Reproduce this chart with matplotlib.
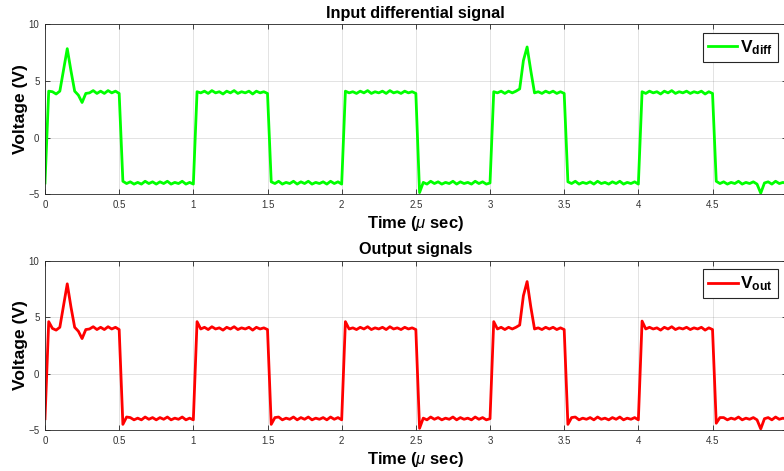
import numpy as np
import matplotlib
matplotlib.use("Agg")
import matplotlib.pyplot as plt

plt.rcParams['font.family'] = ['Liberation Sans', 'DejaVu Sans']
plt.rcParams['mathtext.fontset'] = 'custom'
plt.rcParams['mathtext.rm'] = 'Liberation Sans'
plt.rcParams['mathtext.it'] = 'Liberation Sans:italic'
plt.rcParams['mathtext.bf'] = 'Liberation Sans:bold'

# sample times in microseconds (0.025 us step)
t_us = np.linspace(0.0, 5.0, 201)

# differential input voltage (V)
v_diff = [
    -4.0, 4.1, 4.05, 3.85, 4.1, 6.0, 7.85, 5.9, 4.1, 3.75, 3.1, 3.9, 3.95, 4.15, 3.9, 4.1, 3.9, 4.15, 3.95, 4.1, 3.9,
    -3.85, -4.05, -3.9, -4.1, -3.95, -4.1, -3.85, -4.05, -3.9, -4.1, -3.9, -4.05, -3.85, -4.1, -3.95, -4.05, -3.85, -4.1, -3.95, -4.1,
    4.05, 3.95, 4.1, 3.9, 4.15, 3.95, 4.05, 3.85, 4.1, 3.95, 4.15, 3.9, 4.05, 3.95, 4.1, 3.85, 4.1, 3.95, 4.05, 3.9,
    -3.9, -4.05, -3.85, -4.1, -3.95, -4.05, -3.85, -4.1, -3.9, -4.05, -3.85, -4.1, -3.95, -4.05, -3.9, -4.1, -3.85, -4.05, -3.9, -4.1,
    4.1, 3.95, 4.05, 3.9, 4.1, 3.95, 4.15, 3.9, 4.05, 3.95, 4.1, 3.9, 4.15, 3.95, 4.05, 3.9, 4.1, 3.95, 4.05, 3.9,
    -4.85, -3.95, -4.1, -3.85, -4.05, -3.9, -4.1, -3.95, -4.05, -3.85, -4.1, -3.9, -4.05, -3.95, -4.1, -3.85, -4.05, -3.9, -4.1, -4.0,
    4.05, 3.95, 4.1, 3.9, 4.1, 3.95, 4.1, 4.3, 6.8, 8.0, 5.9, 3.95, 4.05, 3.9, 4.1, 3.95, 4.1, 3.9, 4.05, 3.9,
    -3.9, -4.05, -3.85, -4.1, -3.95, -4.05, -3.9, -4.1, -3.85, -4.05, -3.95, -4.1, -3.9, -4.05, -3.85, -4.1, -3.95, -4.05, -3.9, -4.1,
    4.05, 3.9, 4.1, 3.95, 4.05, 3.85, 4.1, 3.95, 4.15, 3.9, 4.05, 3.95, 4.1, 3.9, 4.05, 3.95, 4.1, 3.85, 4.05, 3.9,
    -3.85, -4.05, -3.9, -4.1, -3.95, -4.05, -3.85, -4.1, -3.95, -4.05, -3.9, -4.1, -4.9, -4.0, -3.9, -4.1, -3.85, -4.05, -3.95, -4.05,
]

# output voltage (V)
v_out = [
    -4.0, 4.6, 4.0, 3.85, 4.1, 6.0, 7.95, 5.9, 4.1, 3.75, 3.1, 3.9, 3.95, 4.15, 3.9, 4.1, 3.9, 4.15, 3.95, 4.1, 3.9,
    -4.5, -3.85, -3.9, -4.1, -3.95, -4.1, -3.85, -4.05, -3.9, -4.1, -3.9, -4.05, -3.85, -4.1, -3.95, -4.05, -3.85, -4.1, -3.95, -4.1,
    4.6, 3.95, 4.1, 3.9, 4.15, 3.95, 4.05, 3.85, 4.1, 3.95, 4.15, 3.9, 4.05, 3.95, 4.1, 3.85, 4.1, 3.95, 4.05, 3.9,
    -4.5, -3.9, -3.85, -4.1, -3.95, -4.05, -3.85, -4.1, -3.9, -4.05, -3.85, -4.1, -3.95, -4.05, -3.9, -4.1, -3.85, -4.05, -3.9, -4.1,
    4.6, 3.95, 4.05, 3.9, 4.1, 3.95, 4.15, 3.9, 4.05, 3.95, 4.1, 3.9, 4.15, 3.95, 4.05, 3.9, 4.1, 3.95, 4.05, 3.9,
    -4.85, -3.95, -4.1, -3.85, -4.05, -3.9, -4.1, -3.95, -4.05, -3.85, -4.1, -3.9, -4.05, -3.95, -4.1, -3.85, -4.05, -3.9, -4.1, -4.0,
    4.6, 3.95, 4.1, 3.9, 4.1, 3.95, 4.1, 4.3, 6.9, 8.15, 5.9, 3.95, 4.05, 3.9, 4.1, 3.95, 4.1, 3.9, 4.05, 3.9,
    -4.5, -3.9, -3.85, -4.1, -3.95, -4.05, -3.9, -4.1, -3.85, -4.05, -3.95, -4.1, -3.9, -4.05, -3.85, -4.1, -3.95, -4.05, -3.9, -4.1,
    4.65, 3.95, 4.1, 3.95, 4.05, 3.85, 4.1, 3.95, 4.15, 3.9, 4.05, 3.95, 4.1, 3.9, 4.05, 3.95, 4.1, 3.85, 4.05, 3.9,
    -4.4, -3.9, -3.9, -4.1, -3.95, -4.05, -3.85, -4.1, -3.95, -4.05, -3.9, -4.1, -4.9, -4.0, -3.9, -4.1, -3.85, -4.05, -3.95, -4.05,
]

x_ticks = [0, 0.5, 1, 1.5, 2, 2.5, 3, 3.5, 4, 4.5, 5]
x_tick_labels = ['0', '0.5', '1', '1.5', '2', '2.5', '3', '3.5', '4', '4.5', '5']
y_ticks = [-5, 0, 5, 10]

W, H = 784, 471
fig = plt.figure(figsize=(W / 100, H / 100), dpi=100)
ax1 = fig.add_axes([45 / W, 276.7 / H, 741.7 / W, 170 / H])
ax2 = fig.add_axes([45 / W, 41 / H, 741.7 / W, 169.3 / H])

panels = [
    (ax1, v_diff, '#00ff00', r'$\mathbf{V_{diff}}$', 'Input differential signal'),
    (ax2, v_out, '#ff0000', r'$\mathbf{V_{out}}$', 'Output signals'),
]

for ax, vals, col, lab, title in panels:
    ax.plot(t_us, vals, color=col, lw=2.0, label=lab)
    ax.set_xlim(0, 5)
    ax.set_ylim(-5, 10)
    ax.set_xticks(x_ticks)
    ax.set_xticklabels(x_tick_labels)
    ax.set_yticks(y_ticks)
    ax.grid(True, color='#262626', alpha=0.15, lw=0.6)
    ax.tick_params(direction='in', top=True, right=True, length=3.5, width=0.6,
                   labelsize=7, labelcolor='#333333', color='#262626', pad=4)
    for sp in ax.spines.values():
        sp.set_color('#262626')
        sp.set_linewidth(0.6)
    ax.set_title(title, fontsize=11.7, fontweight='bold', pad=4.5)
    ax.set_xlabel(r'Time ($\mu$ sec)', fontsize=12, fontweight='bold', labelpad=3)
    ax.set_ylabel('Voltage (V)', fontsize=12.5, fontweight='bold', labelpad=0.5)
    leg = ax.legend(loc='upper right', fontsize=12.5, fancybox=False, framealpha=1,
                    edgecolor='#262626', borderaxespad=0.5, handlelength=1.7,
                    borderpad=0.3, handletextpad=0.15)
    leg.get_frame().set_linewidth(0.8)

fig.savefig('out.png', dpi=100)
